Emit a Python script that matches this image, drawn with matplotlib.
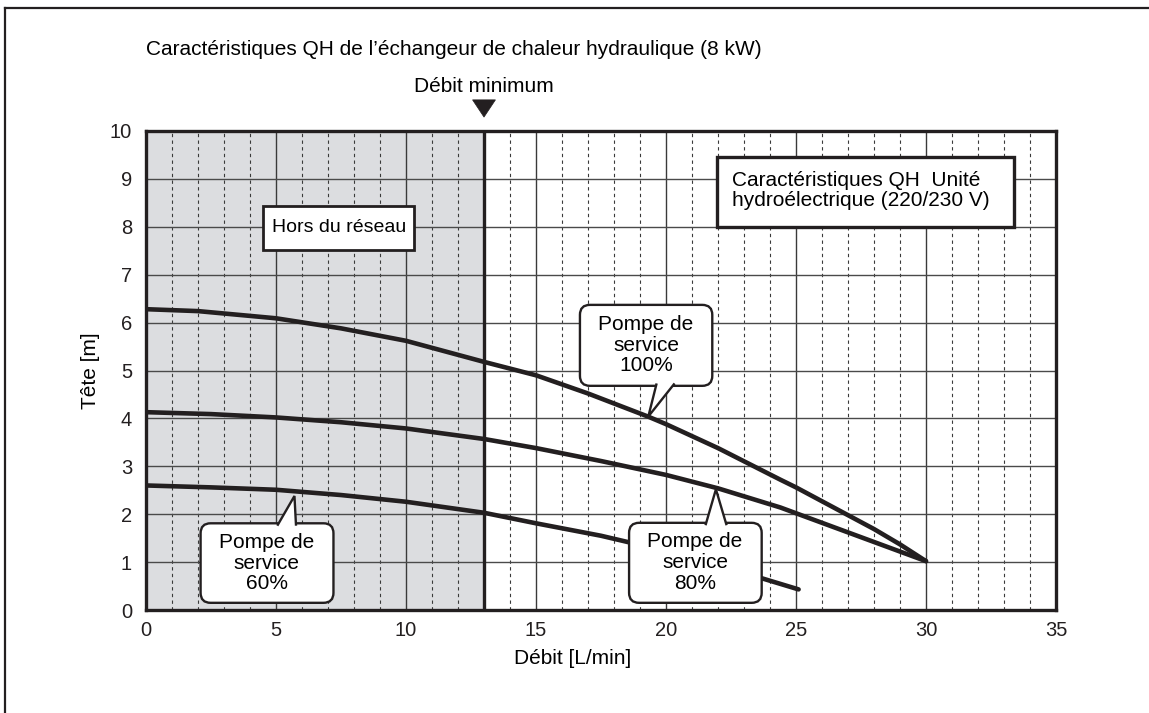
import matplotlib
matplotlib.use("Agg")
import matplotlib.pyplot as plt
from matplotlib.patches import FancyBboxPatch, Polygon, Rectangle
from matplotlib.lines import Line2D

plt.rcParams['font.family'] = ['Liberation Sans', 'DejaVu Sans']

# ---- data ----
q100 = [0, 2, 5, 7.5, 10, 13, 15, 17, 19.3, 20, 22, 24.4, 25, 27, 28, 29, 30]
h100 = [6.28, 6.24, 6.09, 5.88, 5.62, 5.18, 4.90, 4.52, 4.04, 3.88, 3.38, 2.72, 2.56, 1.98, 1.69, 1.37, 1.02]
q80 = [0, 2.5, 5, 7.5, 10, 13, 15, 17.5, 20, 22, 24.4, 25, 27, 29, 30]
h80 = [4.13, 4.09, 4.02, 3.92, 3.79, 3.57, 3.38, 3.11, 2.82, 2.54, 2.14, 2.02, 1.62, 1.22, 1.02]
q60 = [0, 2.5, 5, 7.5, 10, 13, 15, 17.5, 18.6, 21, 23.7, 25.1]
h60 = [2.60, 2.56, 2.51, 2.40, 2.26, 2.03, 1.81, 1.55, 1.41, 1.07, 0.66, 0.43]
min_flow = 13
xticks = [0, 5, 10, 15, 20, 25, 30, 35]
yticks = list(range(0, 11))

title = "Caractéristiques QH de l’échangeur de chaleur hydraulique (8 kW)"
min_label = "Débit minimum"
xlabel = "Débit [L/min]"
ylabel = "Tête [m]"
off_grid = "Hors du réseau"
unit_label = "Caractéristiques QH  Unité\nhydroélectrique (220/230 V)"
lbl100 = "Pompe de\nservice\n100%"
lbl80 = "Pompe de\nservice\n80%"
lbl60 = "Pompe de\nservice\n60%"

INK = '#231f20'
FS = 15
W, H = 1149, 713
fig = plt.figure(figsize=(W / 100, H / 100), dpi=100)
ax = fig.add_axes([146 / W, (H - 610) / H, 910 / W, 479 / H])
ax.set_xlim(0, 35)
ax.set_ylim(0, 10)

# shaded region
ax.axvspan(0, min_flow, color='#dcdde0', zorder=0, lw=0)

# grid
for x in range(1, 35):
    if x % 5 == 0:
        ax.axvline(x, color='#3a3a3a', lw=1.0, zorder=1)
    else:
        ax.axvline(x, color='#3a3a3a', lw=0.8, ls=(0, (3, 3)), zorder=1)
for y in range(1, 10):
    ax.axhline(y, color='#4a4a4a', lw=1.0, zorder=1)

ax.axvline(min_flow, color=INK, lw=2.4, zorder=2)

for q, h in [(q100, h100), (q80, h80), (q60, h60)]:
    ax.plot(q, h, color=INK, lw=3.3, solid_capstyle='round', solid_joinstyle='round', zorder=3)

ax.set_xticks(xticks)
ax.set_yticks(yticks)
ax.tick_params(length=0, labelsize=14.5, colors=INK)
ax.tick_params(axis='y', pad=10)
ax.tick_params(axis='x', pad=8)
for s in ax.spines.values():
    s.set_linewidth(2.4)
    s.set_color(INK)
    s.set_zorder(6)
ax.set_xlabel(xlabel, fontsize=FS)
ax.xaxis.set_label_coords((573 - 146) / 910, -(659 - 610) / 479)
ax.set_ylabel(ylabel, fontsize=FS)
ax.yaxis.set_label_coords(-(146 - 90) / 910, 0.5)
ax.xaxis.label.set_va('center')
ax.yaxis.label.set_va('center')

# scale helpers: x unit = 26 px, y unit = 47.9 px
asp = 26.0 / 47.9


def bubble(x0, x1, y0, y1, tip, b0, b1, text, tx, ty, top=False):
    r = 10 / 26.0
    box = FancyBboxPatch((x0, y0), x1 - x0, y1 - y0,
                         boxstyle=f"round,pad=0,rounding_size={r}",
                         mutation_aspect=asp, fc='white', ec=INK, lw=1.7, zorder=7)
    ax.add_patch(box)
    by = y1 - 0.05 if top else y0 + 0.05
    tail = Polygon([(b0, by), tip, (b1, by)], closed=False, fc='white', ec=INK,
                   lw=1.7, zorder=8, joinstyle='miter')
    ax.add_patch(tail)
    ax.text(tx, ty, text, ha='center', va='center', fontsize=FS, linespacing=1.12,
            zorder=9, color='black')


bubble(16.69, 21.78, 4.68, 6.37, (19.32, 4.04), 19.64, 20.33, lbl100, 19.23, 5.53)
bubble(18.58, 23.68, 0.15, 1.82, (21.92, 2.52), 21.52, 22.33, lbl80, 21.12, 0.99, top=True)
bubble(2.10, 7.21, 0.15, 1.81, (5.71, 2.38), 5.05, 5.77, lbl60, 4.65, 0.98, top=True)

# square boxes
ax.add_patch(Rectangle((4.51, 7.52), 10.31 - 4.51, 8.43 - 7.52, fc='white', ec=INK,
                       lw=2.0, zorder=7))
ax.text((4.51 + 10.31) / 2, (7.52 + 8.43) / 2, off_grid, ha='center', va='center',
        fontsize=14, zorder=9)
ax.add_patch(Rectangle((21.97, 8.0), 33.39 - 21.97, 9.45 - 8.0, fc='white', ec=INK,
                       lw=2.4, zorder=7))
ax.text(22.54, 8.75, unit_label, ha='left', va='center', fontsize=FS,
        linespacing=1.05, zorder=9)

# minimum flow marker
ax.add_patch(Polygon([(min_flow - 0.44, 10.65), (min_flow + 0.44, 10.65),
                      (min_flow, 10.29)], closed=True, fc=INK, ec=INK, lw=0.5,
                     clip_on=False, zorder=9))
ax.text(min_flow, 10 + (131 - 86) / 47.9, min_label, ha='center', va='center',
        fontsize=FS, clip_on=False)
ax.text(0, 10 + (131 - 50) / 47.9, title, ha='left', va='center', fontsize=FS,
        clip_on=False)

# outer frame (top and left edges)
fig.add_artist(Line2D([5 / W, 1], [(H - 8) / H, (H - 8) / H], color=INK, lw=1.6,
                      transform=fig.transFigure))
fig.add_artist(Line2D([5 / W, 5 / W], [0, (H - 8) / H], color=INK, lw=1.6,
                      transform=fig.transFigure))

fig.savefig("out.png", dpi=100)
